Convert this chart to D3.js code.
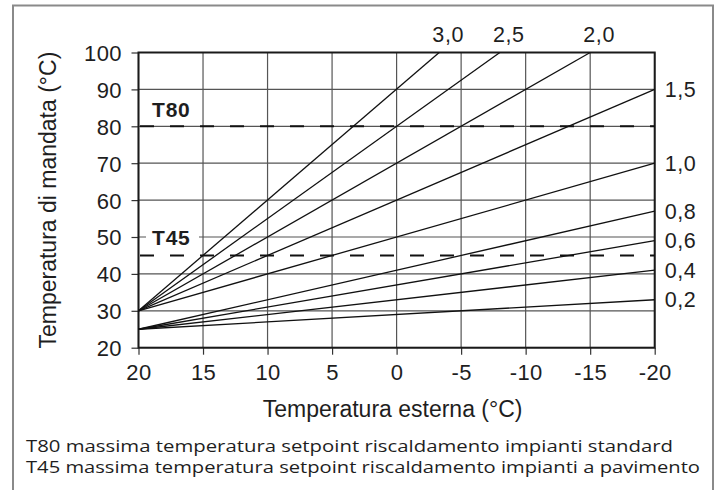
<!DOCTYPE html>
<html><head><meta charset="utf-8">
<script src="https://cdn.jsdelivr.net/npm/d3@7"></script>
<style>body{margin:0;background:#fff}svg{display:block}</style>
</head><body><svg id="c" width="720" height="490"></svg>
<script>
// Data
const xTicks = [20, 15, 10, 5, 0, -5, -10, -15, -20];
const xTickLabels = ["20", "15", "10", "5", "0", "-5", "-10", "-15", "-20"];
const yTicks = [20, 30, 40, 50, 60, 70, 80, 90, 100];
const curveNames = ["3,0", "2,5", "2,0", "1,5", "1,0", "0,8", "0,6", "0,4", "0,2"];
const curveStart = [[20, 30], [20, 30], [20, 30], [20, 30], [20, 30], [20, 25], [20, 25], [20, 25], [20, 25]];
const curveEnd = [[-3.3, 100], [-8, 100], [-15, 100], [-20, 90], [-20, 70], [-20, 57], [-20, 49], [-20, 41], [-20, 33]];
const limitNames = ["T80", "T45"];
const limitValues = [80, 45];
const notes = [
  "T80 massima temperatura setpoint riscaldamento impianti standard",
  "T45 massima temperatura setpoint riscaldamento impianti a pavimento"
];

const svg = d3.select("#c");
const L = 138.5, R = 654.7, T = 52.5, B = 347.7;
const x = d3.scaleLinear().domain([20, -20]).range([L, R]);
const y = d3.scaleLinear().domain([20, 100]).range([B, T]);
const font = "'Liberation Sans', Arial, sans-serif";
const ink = "#1e1e1e";

// outer frame (open at bottom)
svg.append("path").attr("d", "M13,492 L13,5.5 L713,5.5 L713,492")
  .attr("fill", "none").attr("stroke", "#8a8a8a").attr("stroke-width", 2);

// grid
const g = svg.append("g");
g.selectAll(".gx").data(xTicks).join("line")
  .attr("x1", d => x(d)).attr("x2", d => x(d)).attr("y1", T).attr("y2", B)
  .attr("stroke", "#555").attr("stroke-width", 1.2);
g.selectAll(".gy").data(yTicks).join("line")
  .attr("y1", d => y(d)).attr("y2", d => y(d)).attr("x1", L).attr("x2", R)
  .attr("stroke", "#555").attr("stroke-width", 1.2);

// axes via d3
const xAxis = d3.axisBottom(x).tickValues(xTicks).tickFormat((d, i) => xTickLabels[i]).tickSize(7).tickPadding(10);
const yAxis = d3.axisLeft(y).tickValues(yTicks).tickSize(7).tickPadding(9.5);
const ax = svg.append("g").attr("transform", `translate(0,${B})`).call(xAxis);
const ay = svg.append("g").attr("transform", `translate(${L},0)`).call(yAxis);
[ax, ay].forEach(a => {
  a.select(".domain").remove();
  a.selectAll("line").attr("stroke", "#333").attr("stroke-width", 1.2);
  a.selectAll("text").attr("font-family", font).attr("font-size", 22)
    .attr("letter-spacing", 0.4).attr("fill", ink);
});
ax.selectAll("text").attr("dy", "0.71em");
ay.selectAll("text").attr("dy", "0.36em");

// plot frame
svg.append("rect").attr("x", L).attr("y", T).attr("width", R - L).attr("height", B - T)
  .attr("fill", "none").attr("stroke", "#1a1a1a").attr("stroke-width", 2);

// heating curves
const line = d3.line().x(d => x(d[0])).y(d => y(d[1]));
svg.selectAll(".curve").data(curveNames).join("path")
  .attr("d", (d, i) => line([curveStart[i], curveEnd[i]]))
  .attr("fill", "none").attr("stroke", "#111").attr("stroke-width", 1.3);

// curve labels
curveNames.forEach((n, i) => {
  const e = curveEnd[i];
  const t = svg.append("text").attr("font-family", font).attr("font-size", 21.5)
    .attr("letter-spacing", 0.6).attr("fill", ink).text(n);
  if (e[1] >= 100) {
    t.attr("x", x(e[0]) + 9).attr("y", T - 11).attr("text-anchor", "middle");
  } else {
    t.attr("x", R + 10).attr("y", y(e[1])).attr("dy", "0.36em");
  }
});

// limit lines
limitValues.forEach(v => {
  svg.append("line").attr("x1", L + 1.5).attr("x2", R).attr("y1", y(v)).attr("y2", y(v))
    .attr("stroke", "#111").attr("stroke-width", 2).attr("stroke-dasharray", "14,16");
});
// labels: T80 above its line, T45 sits on the 50 gridline with white background
svg.append("text").attr("x", 152).attr("y", y(limitValues[0]) - 9)
  .attr("font-family", font).attr("font-weight", "bold").attr("font-size", 21)
  .attr("letter-spacing", 0.8).attr("fill", ink).text(limitNames[0]);
svg.append("rect").attr("x", 146).attr("y", y(50) - 12).attr("width", 53).attr("height", 22).attr("fill", "#fff");
svg.append("text").attr("x", 152).attr("y", y(50)).attr("dy", "0.36em")
  .attr("font-family", font).attr("font-weight", "bold").attr("font-size", 21)
  .attr("letter-spacing", 0.8).attr("fill", ink).text(limitNames[1]);

// axis titles
svg.append("text").attr("x", (L + R) / 2 - 4).attr("y", 417).attr("text-anchor", "middle")
  .attr("font-family", font).attr("font-size", 23).attr("fill", ink).text("Temperatura esterna (°C)");
svg.append("text").attr("transform", `translate(55.5,${(T + B) / 2}) rotate(-90)`).attr("text-anchor", "middle")
  .attr("font-family", font).attr("font-size", 23).attr("fill", ink).text("Temperatura di mandata (°C)");

// notes
notes.forEach((t, i) => {
  svg.append("text").attr("x", 26).attr("y", 452 + i * 20.5)
    .attr("font-family", "'Open Sans', 'Noto Sans', sans-serif").attr("font-size", 15.5).attr("fill", ink)
    .attr("textLength", i === 0 ? 647 : 674).attr("lengthAdjust", "spacingAndGlyphs").text(t);
});
</script></body></html>
